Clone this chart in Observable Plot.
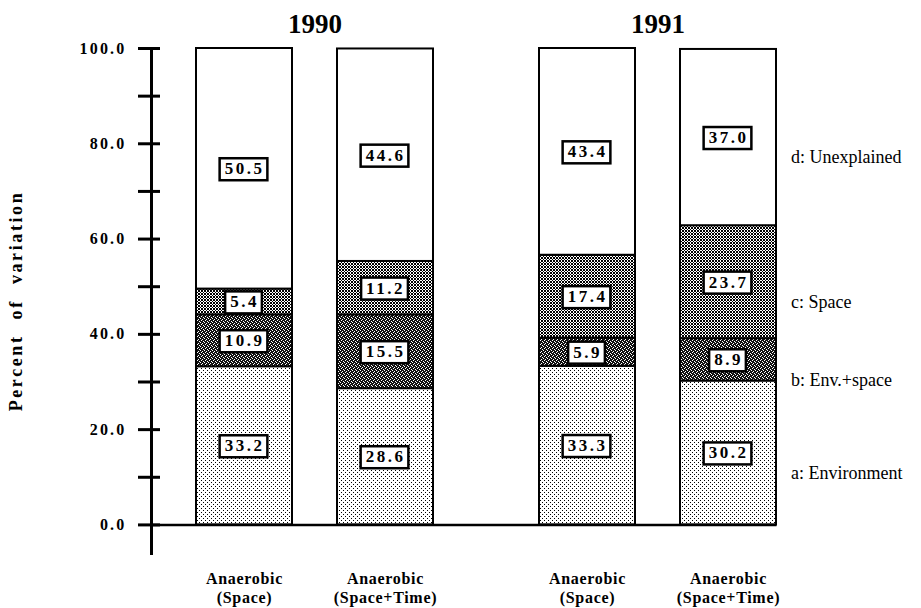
<!DOCTYPE html>
<html><head><meta charset="utf-8">
<script src="https://cdn.jsdelivr.net/npm/d3@7"></script>
<script src="https://cdn.jsdelivr.net/npm/@observablehq/plot@0.6"></script>
<style>
body{margin:0;background:#fff;}
#chart svg{display:block;}
#chart svg text{font-family:'Liberation Serif','DejaVu Serif','Times New Roman',serif;}
g[aria-label="y-axis tick label"] text{letter-spacing:2.2px;}
g[aria-label="y-axis label"] text{font-size:18px;letter-spacing:2.6px;word-spacing:8px;}
g[aria-label="x-axis tick label"] text{letter-spacing:0.7px;}
</style></head><body><div id="chart"></div>
<script>
const years = ["1990", "1991"];
const conditions = ["Space", "Space+Time"];
const components = ["a: Environment", "b: Env.+space", "c: Space", "d: Unexplained"];
// bars in order: 1990 Space, 1990 Space+Time, 1991 Space, 1991 Space+Time
const barYears = ["1990", "1990", "1991", "1991"];
const barConditions = ["Space", "Space+Time", "Space", "Space+Time"];
const environment = [33.2, 28.6, 33.3, 30.2];
const envSpace = [10.9, 15.5, 5.9, 8.9];
const space = [5.4, 11.2, 17.4, 23.7];
const unexplained = [50.5, 44.6, 43.4, 37.0];
const yTicks = [0, 10, 20, 30, 40, 50, 60, 70, 80, 90, 100];

const series = [environment, envSpace, space, unexplained];
const rows = [];
barYears.forEach((yr, i) => {
  components.forEach((c, j) => {
    rows.push({year: yr, cond: barConditions[i], comp: c, value: series[j][i], bar: i});
  });
});
const lastBar = rows.filter(d => d.bar === 3);

const serif = "'Liberation Serif', 'DejaVu Serif', 'Times New Roman', serif";

const plot = Plot.plot({
  width: 921, height: 608,
  marginLeft: 150, marginRight: 99, marginTop: 48, marginBottom: 55,
  style: {fontFamily: serif, fontSize: "15px", fontWeight: "bold", background: "white", color: "black"},
  fx: {domain: years, paddingInner: 0.0465, paddingOuter: 0, label: null},
  x: {domain: conditions, paddingInner: 0.317, paddingOuter: 0.3135, label: null},
  y: {domain: [-6, 100], label: null},
  color: {domain: components, range: ["url(#pA)", "url(#pB)", "url(#pC)", "white"]},
  marks: [
    Plot.axisFx({anchor: "top", tickSize: 0, tickPadding: 16, fontSize: 27, label: null}),
    Plot.axisX({anchor: "bottom", tickSize: 0, tickPadding: 17, lineHeight: 1.2, fontSize: 16,
      tickFormat: d => `Anaerobic\n(${d})`, label: null}),
    Plot.axisY({ticks: yTicks, tickSize: 22, dx: 9, tickPadding: 12, strokeWidth: 3, fontSize: 16,
      tickFormat: d => d % 20 === 0 ? d.toFixed(1) : "",
      label: "Percent of variation", labelArrow: "none", labelAnchor: "center", labelOffset: 142}),
    Plot.frame({anchor: "left", facetAnchor: "left", strokeWidth: 3}),
    Plot.barY(rows, {fx: "year", x: "cond", y: "value", fill: "comp", stroke: "black", strokeWidth: 2}),
    Plot.ruleY([{year: "1990"}], {fx: "year", y: () => 0, insetRight: -16, strokeWidth: 2.5}),
    Plot.ruleY([{year: "1991"}], {fx: "year", y: () => 0, insetRight: 44.5, strokeWidth: 2.5}),
    Plot.text(rows, Plot.stackY({fx: "year", x: "cond", y: "value", z: "comp",
      text: d => d.value.toFixed(1), fontSize: 17, fontWeight: "bold", ariaDescription: "seglabel"})),
    Plot.text(lastBar, Plot.stackY({fx: "year", x: "cond", y: "value", z: "comp",
      text: "comp", textAnchor: "start", dx: 62.5, dy: 20, fontSize: 18, fontWeight: "normal"}))
  ]
});

document.getElementById("chart").appendChild(plot);

const svg = d3.select(plot);
const defs = svg.insert("defs", ":first-child");
function px(p, pts, color) {
  pts.forEach(([x, y]) => p.append("rect").attr("x", x).attr("y", y).attr("width", 1).attr("height", 1).attr("fill", color));
}
// a: light dots
const pA = defs.append("pattern").attr("id", "pA").attr("patternUnits", "userSpaceOnUse").attr("width", 4).attr("height", 4);
pA.append("rect").attr("width", 4).attr("height", 4).attr("fill", "white");
px(pA, [[0, 0], [2, 2]], "black");
// b: dark stipple
const pB = defs.append("pattern").attr("id", "pB").attr("patternUnits", "userSpaceOnUse").attr("width", 4).attr("height", 4);
pB.append("rect").attr("width", 4).attr("height", 4).attr("fill", "#111");
px(pB, [[0, 0], [2, 1], [1, 3], [3, 2]], "white");
// c: x-marks
const pC = defs.append("pattern").attr("id", "pC").attr("patternUnits", "userSpaceOnUse").attr("width", 3).attr("height", 3);
pC.append("rect").attr("width", 3).attr("height", 3).attr("fill", "white");
px(pC, [[0, 0], [2, 0], [1, 1], [0, 2], [2, 2]], "black");
svg.selectAll("pattern rect").attr("shape-rendering", "crispEdges");

// boxes behind segment labels
let labelTexts = svg.selectAll('g[aria-description="seglabel"] text');
if (labelTexts.empty()) {
  labelTexts = svg.selectAll('g[aria-label="text"]').filter(function() { return this.getAttribute("font-weight") === "bold"; }).selectAll("text");
}
labelTexts.attr("letter-spacing", "2.5px");
labelTexts.each(function() {
  const b = this.getBBox();
  d3.select(this.parentNode).insert("rect", () => this)
    .attr("transform", this.getAttribute("transform"))
    .attr("x", b.x - 5).attr("y", b.y - 1).attr("width", b.width + 8).attr("height", b.height + 3)
    .attr("fill", "white").attr("stroke", "black").attr("stroke-width", 2.5);
});
</script></body></html>
